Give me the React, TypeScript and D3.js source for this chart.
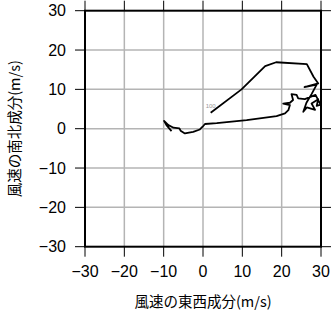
import React from "react";
import * as d3 from "d3";

const ticks = [-30, -20, -10, 0, 10, 20, 30];
const uWind = [1.95, 9.8, 15.8, 18.6, 26.4, 28.1, 29.3, 25.8, 28.9, 27.6, 26.3, 25.5, 26.4, 28.5, 27.6, 29.3, 28.9, 29.9, 28.6, 25.9, 24.2, 23.8, 22.5, 22.9, 22.1, 20.4, 22.1, 21.7, 20.85, 18.7, 11.1, 3.5, 0.5, -0.1, -0.8, -2.5, -4.6, -5.7, -6.0, -7.5, -8.8, -9.9, -9.3, -8.0];
const vWind = [4.07, 10.0, 15.9, 16.9, 16.4, 13.2, 11.5, 10.6, 11.2, 8.8, 6.6, 4.3, 5.4, 4.8, 6.4, 7.5, 5.8, 6.1, 8.6, 7.5, 7.7, 8.6, 8.8, 7.3, 6.6, 6.4, 6.0, 4.7, 3.9, 3.2, 2.2, 1.4, 1.2, 0.5, -0.2, -0.8, -1.2, -0.5, 0.1, 0.25, 0.9, 2.0, 0.9, -0.6];
const levelLabel = "100";
const xTitle = "風速の東西成分(m/s)";
const yTitle = "風速の南北成分(m/s)";

const fmt = (t: number) => (t < 0 ? "\u2212" + Math.abs(t) : String(t));

export default function App() {
  const x = d3.scaleLinear().domain([-30, 30]).range([85, 321]);
  const y = d3.scaleLinear().domain([-30, 30]).range([246.7, 10.7]);
  const pts: [number, number][] = uWind.map((u, i) => [u, vWind[i]]);
  const line = d3
    .line<[number, number]>()
    .x((d) => x(d[0]))
    .y((d) => y(d[1]))
    .curve(d3.curveLinear);
  const font = "'Liberation Sans', Arial, Helvetica, sans-serif";
  const cjk = "'Noto Sans CJK JP', 'Liberation Sans', sans-serif";
  return (
    <svg
      width={331}
      height={318}
      style={{ position: "absolute", left: 0, top: 0, background: "#fff" }}
    >
      {ticks
        .filter((t) => t > -30 && t < 30)
        .map((t) => (
          <g key={"g" + t}>
            <line x1={x(t)} x2={x(t)} y1={y(-30)} y2={y(30)} stroke="#b4b4b4" strokeWidth={1.5} />
            <line x1={x(-30)} x2={x(30)} y1={y(t)} y2={y(t)} stroke="#b4b4b4" strokeWidth={1.5} />
          </g>
        ))}
      {ticks.map((t) => (
        <g key={"t" + t} stroke="#000" strokeWidth={1}>
          <line x1={x(t)} x2={x(t)} y1={y(-30)} y2={y(-30) + 10} />
          <line x1={x(t)} x2={x(t)} y1={y(30)} y2={y(30) - 10} />
          <line x1={x(-30)} x2={x(-30) - 10} y1={y(t)} y2={y(t)} />
          <line x1={x(30)} x2={x(30) + 10} y1={y(t)} y2={y(t)} />
        </g>
      ))}
      <rect
        x={x(-30)}
        y={y(30)}
        width={x(30) - x(-30)}
        height={y(-30) - y(30)}
        fill="none"
        stroke="#000"
        strokeWidth={2}
      />
      <path d={line(pts) || ""} fill="none" stroke="#000" strokeWidth={1.8} strokeLinejoin="round" />
      <text x={x(uWind[0])} y={y(vWind[0]) - 5} fontSize={6} fill="#999" textAnchor="middle" fontFamily={font}>
        {levelLabel}
      </text>
      {ticks.map((t) => (
        <text key={"yl" + t} x={66} y={y(t)} dy="0.36em" textAnchor="end" fontSize={16} fontFamily={font} fill="#000">
          {fmt(t)}
        </text>
      ))}
      {ticks.map((t) => (
        <text key={"xl" + t} x={x(t)} y={271.5} dy="0.36em" textAnchor="middle" fontSize={16} fontFamily={font} fill="#000">
          {fmt(t)}
        </text>
      ))}
      <text x={x(0)} y={302} dy="0.36em" textAnchor="middle" fontSize={14.5} fontFamily={cjk} fill="#000">
        {xTitle}
      </text>
      <text
        transform={`translate(15,${y(0)}) rotate(-90)`}
        dy="0.36em"
        textAnchor="middle"
        fontSize={14.5}
        fontFamily={cjk}
        fill="#000"
      >
        {yTitle}
      </text>
    </svg>
  );
}
